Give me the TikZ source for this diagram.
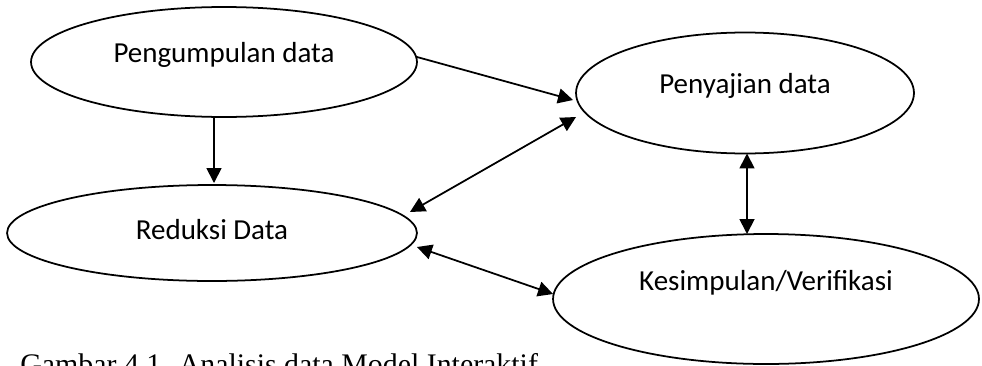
\documentclass[tikz,border=0pt]{standalone}
\usepackage{fontspec}
\setmainfont{Carlito}
\newfontfamily\captionserif{Liberation Serif}
\usetikzlibrary{arrows.meta, positioning, calc, shapes.geometric}
\tikzset{
  tahap/.style={draw, ellipse, line width=1pt, outer sep=0pt, inner sep=0pt,
    text height=0pt, text depth=0pt, font=\fontsize{16.5}{20}\selectfont},
  arr/.style={-{Triangle[length=0.3cm, width=0.3cm]}, line width=1pt},
  darr/.style={{Triangle[length=0.3cm, width=0.3cm]}-{Triangle[length=0.3cm, width=0.3cm]}, line width=1pt},
}

\begin{document}
\begin{tikzpicture}[x=0.02cm, y=-0.02cm]
    \useasboundingbox (0,0) rectangle (982,365);
    \node[tahap, minimum width=7.72cm, minimum height=2.2cm] (kumpul) at (224,62) {Pengumpulan data};
    \node[tahap, minimum width=6.76cm, minimum height=2.42cm] (saji) at (745,93) {Penyajian data};
    \node[tahap, minimum width=8.2cm, minimum height=1.92cm, text height=0.24cm] (reduksi) at (212,233) {Reduksi Data};
    \node[tahap, minimum width=8.52cm, minimum height=2.6cm, text depth=0.36cm] (simpul) at (766,299) {Kesimpulan/Verifikasi};
    \node[anchor=base west, inner sep=0pt, font=\captionserif\fontsize{17}{20}\selectfont] (judul) at (20,374)
      {Gambar 4.1. Analisis data Model Interaktif};
    % alur
    \draw[arr] ($(kumpul.east)+(0,-5)$) -- ($(saji.west)+(-3,7)$);
    \draw[arr] ($(kumpul.south)+(-10,0)$) -- ($(reduksi.north)+(2,-2)$);
    \draw[darr] ($(reduksi.east)+(-7,-21)$) -- ($(saji.west)+(0,24)$);
    \draw[darr] ($(saji.south)+(2,0)$) -- ($(simpul.north)+(-19,0)$);
    \draw[darr] ($(reduksi.east)+(0,14)$) -- ($(simpul.west)+(0,-5)$);
\end{tikzpicture}
\end{document}
